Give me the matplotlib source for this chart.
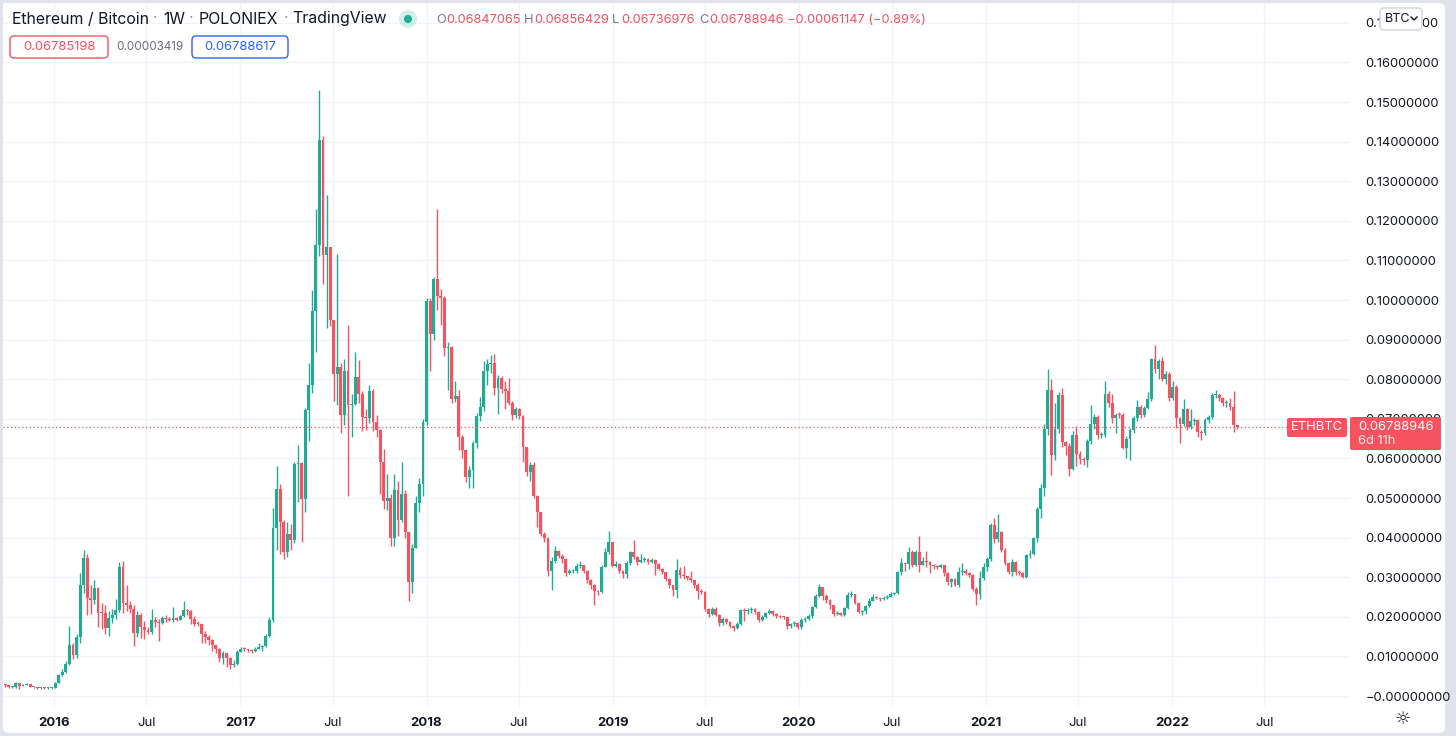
import matplotlib
matplotlib.use("Agg")
import matplotlib.pyplot as plt
import numpy as np
import pandas as pd
from matplotlib.patches import FancyBboxPatch, Circle
from matplotlib.ticker import FuncFormatter
from matplotlib.transforms import IdentityTransform

plt.rcParams["font.family"] = ["Inter", "DejaVu Sans"]

# weekly ETH/BTC candles, in units of 0.001 BTC
FIRST_DATE = "2015-09-28"
FIRST_OPEN = 2.9
LAST_OPEN = 68.47

closes = [
    # 2015 Q4 - 2016
    2.7, 2.2, 2.3, 3.2, 2.6, 2.9, 3.0, 2.4, 2.2, 2.1, 2.1, 2.0, 2.1, 2.1, 3.4, 5.3, 6.1, 8.0, 12.9, 10.4,
    14.8, 28.0, 34.8, 24.7, 24.2, 27.4, 21.1, 21.0, 17.3, 19.6, 20.5, 21.7, 32.5, 23.4, 23.0, 22.0, 16.0, 20.5, 17.5, 16.7,
    16.3, 19.2, 18.7, 18.5, 19.6, 19.4, 19.2, 19.6, 19.3, 20.2, 21.7, 21.5, 19.4, 18.3, 18.1, 15.8, 15.0, 14.1, 12.9, 12.0,
    9.5, 10.8, 9.5, 7.8, 8.0, 11.2,
    # 2017
    12.0, 11.8, 11.6, 11.3, 12.0, 12.5, 12.6, 15.2, 19.2, 42.5, 52.2, 44.0, 36.3, 41.0, 39.5, 58.5, 58.8, 49.8, 72.3, 78.5,
    97.2, 113.8, 140.3, 111.3, 113.5, 95.0, 81.3, 83.2, 71.0, 82.2, 73.5, 73.8, 80.5, 76.3, 70.5, 70.3, 77.0, 69.2, 67.2, 59.2,
    49.2, 50.0, 40.0, 52.0, 44.5, 51.0, 41.5, 28.8, 37.5, 48.8, 53.5, 69.2, 99.8, 91.5,
    # 2018
    105.3, 101.1, 100.6, 88.0, 88.2, 75.0, 75.8, 65.5, 62.2, 55.4, 57.1, 63.9, 70.8, 73.1, 82.1, 83.8, 84.2, 77.7, 80.3, 77.5,
    77.1, 74.0, 71.0, 72.4, 70.8, 62.8, 56.7, 58.4, 50.6, 46.4, 40.9, 40.0, 31.6, 34.1, 36.7, 35.4, 34.6, 31.0, 31.5, 31.7,
    32.8, 33.0, 31.6, 29.3, 28.1, 26.5, 26.2, 32.7, 36.4, 38.8, 32.9, 33.3, 31.6,
    # 2019
    30.9, 33.6, 36.4, 35.1, 33.9, 34.4, 34.6, 33.9, 34.4, 33.4, 32.2, 31.3, 29.6, 28.0, 26.7, 31.8, 30.5, 30.2, 29.9, 29.2,
    28.0, 26.5, 26.4, 21.9, 20.8, 22.1, 20.6, 18.5, 19.5, 18.7, 17.7, 17.2, 18.3, 21.8, 21.5, 21.8, 22.1, 21.2, 19.3, 20.0,
    21.0, 21.5, 20.8, 20.1, 20.0, 19.9, 17.6, 18.1, 18.5, 17.4, 19.3, 19.5, 20.1, 22.5, 25.4, 27.5, 25.4, 24.2, 22.9, 20.8,
    21.1,
    # 2020 - early 2021
    20.5, 22.2, 25.5, 25.7, 23.6, 21.3, 21.4, 22.7, 24.1, 25.0, 24.7, 24.5, 24.8, 25.1, 25.9, 26.0, 31.4, 33.5, 33.3, 36.5,
    33.1, 36.5, 33.1, 34.2, 33.9, 33.1, 32.8, 32.7, 33.0, 31.2, 28.9, 29.5, 28.1, 31.4, 31.7, 31.2, 30.6, 27.0, 25.8, 29.7,
    32.6, 34.5, 43.2, 39.6, 41.5, 36.9, 33.5, 31.4, 33.9, 31.4, 31.0, 30.0, 35.6, 36.0, 39.8, 47.2, 52.6,
    # 2021 - 2022
    67.5, 77.2, 60.8, 67.5, 76.0, 64.2, 63.2, 57.4, 65.9, 61.2, 59.8, 59.5, 64.3, 68.8, 70.5, 65.9, 66.0, 76.4, 74.1, 70.1,
    71.1, 71.0, 62.7, 65.0, 67.1, 70.1, 73.0, 70.9, 72.8, 75.1, 85.0, 82.5, 84.5, 80.0, 81.4, 75.3, 78.1, 70.1, 68.8, 72.4,
    68.0, 69.4, 69.6, 66.7, 66.5, 69.6, 70.5, 76.1, 76.1, 75.3, 73.9, 74.0, 73.0, 68.47, 67.88946,
]

highs = [
    3.0, 2.8, 2.5, 3.5, 3.3, 3.1, 3.2, 3.1, 2.4, 2.3, 2.3, 2.2, 2.3, 2.3, 3.6, 5.6, 6.9, 8.8, 17.8, 13.5,
    15.8, 31.0, 37.0, 36.0, 28.0, 29.3, 27.5, 23.5, 23.0, 21.5, 22.0, 24.5, 33.9, 34.0, 28.1, 24.0, 23.0, 21.5, 21.0, 19.0,
    17.5, 22.0, 20.0, 19.5, 20.2, 20.5, 20.0, 22.4, 20.0, 20.6, 24.0, 22.0, 21.7, 20.2, 18.9, 18.3, 16.4, 15.5, 14.4, 13.0,
    12.2, 11.4, 11.0, 9.8, 9.0, 11.6,
    12.5, 12.3, 12.0, 11.8, 12.3, 13.5, 13.0, 15.8, 20.0, 47.5, 58.0, 53.5, 44.5, 44.0, 43.5, 59.0, 63.5, 59.0, 72.8, 84.0,
    102.5, 123.0, 153.0, 141.5, 126.5, 113.5, 95.0, 111.5, 84.0, 85.0, 93.8, 76.3, 87.0, 84.8, 77.0, 72.5, 78.5, 77.5, 71.0, 67.5,
    62.5, 56.0, 51.0, 56.0, 54.2, 59.2, 52.0, 41.5, 38.5, 50.5, 55.0, 70.0, 100.6, 100.5,
    105.8, 122.9, 102.9, 101.0, 89.5, 88.5, 79.6, 77.3, 66.0, 62.5, 58.0, 64.5, 71.5, 75.4, 84.6, 85.0, 86.0, 86.5, 81.0, 80.8,
    79.6, 80.2, 74.5, 73.0, 72.8, 71.0, 63.0, 59.2, 59.0, 50.8, 46.6, 41.5, 40.2, 35.0, 38.0, 36.9, 35.8, 34.8, 32.0, 32.2,
    33.6, 34.0, 33.2, 31.8, 29.5, 28.2, 26.8, 33.0, 37.5, 41.7, 38.9, 34.0, 33.5,
    31.8, 34.0, 36.7, 39.5, 35.3, 35.8, 35.0, 34.8, 34.9, 34.5, 33.6, 32.3, 31.4, 29.8, 28.1, 34.6, 32.7, 32.9, 30.4, 31.7,
    29.4, 28.5, 27.0, 26.6, 22.2, 22.5, 22.4, 20.8, 20.0, 19.8, 18.9, 18.0, 18.6, 22.1, 22.2, 22.3, 22.6, 22.3, 21.4, 20.4,
    21.3, 21.9, 21.7, 21.0, 20.4, 20.3, 20.0, 18.5, 18.9, 18.6, 19.7, 20.0, 20.7, 22.8, 25.9, 28.4, 27.6, 25.8, 24.4, 23.0,
    21.6,
    21.3, 22.6, 26.2, 26.6, 25.9, 23.8, 21.8, 23.0, 24.8, 25.9, 25.4, 25.0, 25.2, 25.6, 26.3, 26.3, 31.6, 34.8, 33.9, 37.6,
    36.8, 37.0, 40.4, 35.2, 36.7, 34.0, 33.4, 33.2, 33.4, 33.0, 31.4, 29.8, 29.8, 32.5, 33.5, 32.2, 31.3, 30.8, 27.5, 31.5,
    33.5, 35.0, 43.6, 44.9, 46.0, 41.8, 37.5, 33.8, 34.5, 34.2, 31.8, 31.3, 35.9, 37.0, 40.2, 47.8, 53.5,
    68.8, 82.5, 80.1, 74.0, 76.8, 77.8, 64.5, 64.0, 67.0, 68.3, 62.0, 60.4, 65.0, 73.4, 71.2, 71.0, 66.8, 79.5, 77.0, 76.3,
    71.6, 71.7, 71.5, 65.6, 67.8, 70.7, 74.8, 73.5, 73.2, 76.9, 85.4, 88.6, 85.2, 85.5, 82.0, 81.8, 79.5, 78.5, 70.5, 75.1,
    72.8, 72.5, 70.2, 70.0, 67.2, 70.3, 71.0, 76.5, 77.2, 76.5, 75.6, 74.8, 75.3, 77.0, 68.56,
]

lows = [
    2.4, 2.0, 2.0, 2.1, 1.8, 2.5, 2.7, 2.3, 2.0, 1.9, 1.9, 1.8, 1.9, 1.9, 2.0, 3.3, 5.0, 5.8, 7.8, 9.4,
    9.7, 13.5, 26.0, 20.5, 20.8, 23.3, 17.5, 16.9, 15.8, 15.3, 18.5, 19.4, 21.2, 21.0, 21.5, 21.0, 12.7, 14.8, 14.6, 14.3,
    15.8, 15.8, 17.5, 13.9, 18.2, 18.8, 18.9, 18.8, 19.0, 19.1, 19.9, 20.4, 18.2, 17.8, 17.6, 13.3, 13.5, 13.0, 11.4, 10.8,
    8.6, 8.0, 7.4, 6.9, 7.3, 7.8,
    11.2, 11.4, 11.2, 11.0, 11.1, 12.0, 11.5, 12.4, 14.8, 18.6, 37.0, 36.0, 34.5, 35.2, 37.0, 38.7, 49.0, 39.0, 46.5, 64.5,
    76.5, 87.0, 111.0, 104.0, 93.0, 93.5, 74.5, 73.5, 66.5, 68.5, 50.5, 65.5, 73.5, 74.0, 67.0, 67.2, 69.0, 67.0, 65.5, 51.0,
    47.2, 47.0, 37.8, 38.0, 40.5, 44.0, 40.0, 24.0, 26.0, 37.5, 46.5, 50.5, 68.5, 82.0,
    90.0, 97.5, 93.7, 85.8, 77.3, 74.0, 74.2, 62.2, 60.0, 54.1, 52.6, 52.6, 62.7, 69.5, 72.0, 78.5, 81.5, 76.0, 71.2, 76.5,
    72.5, 73.5, 69.6, 70.3, 70.0, 59.0, 55.5, 54.4, 50.0, 42.6, 40.5, 39.0, 30.2, 26.9, 33.6, 34.8, 33.5, 30.4, 30.8, 31.0,
    31.2, 32.4, 31.0, 28.5, 27.0, 23.1, 25.6, 26.0, 32.5, 36.0, 32.5, 32.5, 31.0,
    29.9, 29.8, 33.2, 34.5, 33.2, 33.6, 33.8, 33.4, 33.6, 30.6, 31.8, 30.8, 29.0, 27.2, 25.4, 24.8, 29.8, 29.6, 29.3, 28.7,
    27.4, 24.4, 25.8, 21.4, 19.9, 20.5, 20.2, 17.6, 18.0, 18.2, 17.2, 16.4, 16.9, 18.0, 19.0, 20.8, 21.0, 20.8, 18.8, 19.0,
    19.8, 20.8, 20.3, 19.6, 19.6, 19.4, 17.0, 17.2, 17.8, 17.0, 17.0, 18.8, 19.2, 19.8, 22.2, 25.0, 24.3, 23.6, 22.0, 20.3,
    20.5,
    20.2, 20.2, 22.0, 25.0, 23.2, 21.0, 20.4, 20.8, 22.5, 24.0, 24.4, 24.1, 24.3, 24.5, 25.0, 25.5, 25.7, 30.5, 31.6, 32.0,
    32.5, 32.8, 31.4, 33.0, 32.5, 31.0, 32.2, 32.0, 32.3, 30.3, 28.0, 27.5, 27.7, 27.6, 30.5, 30.6, 30.0, 26.5, 22.9, 24.5,
    29.4, 31.5, 34.0, 38.6, 39.0, 36.4, 33.0, 30.8, 30.2, 30.7, 30.5, 29.7, 29.8, 34.8, 35.5, 39.0, 45.0,
    50.5, 66.0, 55.9, 59.5, 66.5, 63.0, 60.8, 55.6, 57.0, 58.2, 58.5, 58.4, 57.8, 63.6, 67.5, 65.0, 65.2, 65.5, 73.0, 69.0,
    66.5, 70.2, 62.3, 60.0, 59.5, 66.5, 69.5, 70.2, 70.4, 72.5, 74.6, 81.6, 80.0, 79.5, 78.7, 74.6, 74.8, 67.6, 64.0, 68.2,
    67.3, 67.5, 68.4, 65.3, 64.7, 65.8, 69.0, 70.0, 75.2, 74.5, 73.2, 73.0, 72.3, 66.8, 67.37,
]

LAST_PRICE = 0.06788946

W, H = 1456, 736
UP, DOWN = "#22ab94", "#f7525f"
TEXT = "#131722"
GRID = "#f0f3fa"


def px_text(fig, x, y, s, **kw):
    kw.setdefault("va", "center")
    return fig.text(x, H - y, s, transform=IdentityTransform(), **kw)


def px_box(fig, x0, y0, x1, y1, fc, ec="none", r=3, z=5):
    box = FancyBboxPatch((x0, H - y1), x1 - x0, y1 - y0,
                         boxstyle=f"round,pad=0,rounding_size={r}",
                         transform=IdentityTransform(), fc=fc, ec=ec, lw=1, zorder=z)
    fig.add_artist(box)


def main() -> None:
    c = np.array(closes) / 1000
    h = np.array(highs) / 1000
    lo = np.array(lows) / 1000
    o = np.concatenate([[FIRST_OPEN / 1000], c[:-1]])
    o[-1] = LAST_OPEN / 1000
    n = len(c)
    x = np.arange(n)
    up = c >= o
    colors = np.where(up, UP, DOWN)

    fig = plt.figure(figsize=(W / 100, H / 100), dpi=100, facecolor="#e0e3eb")
    px_box(fig, 3, 3, 1445, 733, "white", r=6, z=-10)

    ax = fig.add_axes([3 / W, 1 - 706 / H, (1350 - 3) / W, (706 - 3) / H])
    ax.set_facecolor("white")
    for spine in ax.spines.values():
        spine.set_visible(False)

    ax.vlines(x, lo, h, colors=colors, linewidth=1, zorder=3)
    body = np.maximum(np.abs(c - o), 0.00025)
    ax.bar(x, body, bottom=np.minimum(o, c), width=0.8, color=colors, linewidth=0, zorder=4)

    ax.axhline(LAST_PRICE, color=DOWN, linestyle=(0, (1, 2)), linewidth=0.9, zorder=5)

    ax.set_xlim(-0.6, 376.6)
    ax.set_ylim(-0.0025, 0.175)

    # time axis: 1 January and 1 July, placed on the weekly bar scale
    start = pd.Timestamp(FIRST_DATE)
    ticks, labels, bold = [], [], []
    for year in range(2016, 2023):
        for month, text in ((1, str(year)), (7, "Jul")):
            ticks.append((pd.Timestamp(year, month, 1) - start).days / 7)
            labels.append(text)
            bold.append(month == 1)
    ax.set_xticks(ticks, labels)
    for lab, b in zip(ax.get_xticklabels(), bold):
        lab.set_fontweight("bold" if b else "normal")
    ax.tick_params(axis="x", length=0, pad=8, labelsize=9.5, labelcolor=TEXT)

    ax.yaxis.tick_right()
    ax.set_yticks(np.arange(0, 0.1701, 0.01))
    ax.yaxis.set_major_formatter(FuncFormatter(
        lambda v, _: "\u22120.00000000" if abs(v) < 1e-9 else f"{v:.8f}"))
    ax.tick_params(axis="y", length=0, pad=11, labelsize=9.3, labelcolor=TEXT)
    ax.grid(True, color=GRID, linewidth=1)
    ax.set_axisbelow(True)

    # header line
    for s, px, col in [("Ethereum / Bitcoin", 12, TEXT), ("\u00b7", 153, "#9598a1"), ("1W", 163, TEXT),
                       ("\u00b7", 189, "#9598a1"), ("POLONIEX", 199, TEXT), ("\u00b7", 284, "#9598a1"),
                       ("TradingView", 292, TEXT)]:
        px_text(fig, px, 19, s, fontsize=11.4, color=col, zorder=6)
    fig.add_artist(Circle((408, H - 19), 9, transform=IdentityTransform(), color=UP, alpha=0.2, lw=0, zorder=6))
    fig.add_artist(Circle((408, H - 19), 4, transform=IdentityTransform(), color=UP, lw=0, zorder=7))
    for s, px, col in [("O", 436, "#787b86"), ("0.06847065", 446, DOWN), ("H", 524, "#787b86"),
                       ("0.06856429", 534, DOWN), ("L", 612, "#787b86"), ("0.06736976", 621, DOWN),
                       ("C", 699, "#787b86"), ("0.06788946", 709, DOWN),
                       ("\u22120.00061147 (\u22120.89%)", 787, DOWN)]:
        px_text(fig, px, 20, s, fontsize=9.2, color=col, zorder=6)

    px_box(fig, 10, 36, 108, 58, "white", ec=DOWN, r=4, z=6)
    px_text(fig, 59, 47, "0.06785198", fontsize=9.4, color=DOWN, ha="center", zorder=7)
    px_text(fig, 116, 47, "0.00003419", fontsize=8.4, color="#6a6d78", zorder=7)
    px_box(fig, 192, 36, 288, 58, "white", ec="#2962ff", r=4, z=6)
    px_text(fig, 240, 47, "0.06788617", fontsize=9.4, color="#2962ff", ha="center", zorder=7)

    # currency button over the top price label
    px_box(fig, 1380, 8, 1422, 30, "white", ec="#d1d4dc", r=4, z=6)
    px_text(fig, 1385, 19, "BTC", fontsize=9, color=TEXT, zorder=7)
    fig.add_artist(plt.Line2D([1411, 1414, 1417], [H - 17, H - 20, H - 17], transform=IdentityTransform(),
                              color=TEXT, lw=1, zorder=7))

    # last price labels
    px_box(fig, 1287, 418, 1347, 437, DOWN, r=2, z=6)
    px_text(fig, 1317, 427.5, "ETHBTC", fontsize=9.4, color="white", ha="center", zorder=7)
    px_box(fig, 1350, 417, 1441, 450, DOWN, r=2, z=6)
    px_text(fig, 1358, 427, f"{LAST_PRICE:.8f}", fontsize=9.3, color="white", zorder=7)
    px_text(fig, 1358, 441, "6d 11h", fontsize=9.3, color="white", alpha=0.9, zorder=7)

    px_text(fig, 1403, 719, "\u263c", fontsize=13, color=TEXT, ha="center", family="DejaVu Sans", zorder=7)

    fig.savefig("out.png", dpi=100, facecolor=fig.get_facecolor())


if __name__ == "__main__":
    main()
